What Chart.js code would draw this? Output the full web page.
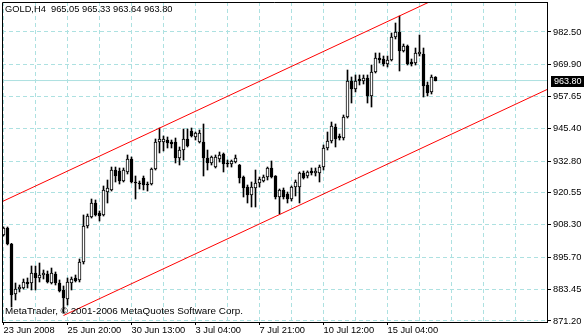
<!DOCTYPE html>
<html>
<head>
<meta charset="utf-8">
<script src="https://cdn.jsdelivr.net/npm/chart.js@4.4.1/dist/chart.umd.min.js"></script>
<style>
  html, body { margin: 0; padding: 0; background: #fff; }
  #wrap { width: 584px; height: 336px; }
</style>
</head>
<body>
<div id="wrap"><canvas id="chart" width="584" height="336"></canvas></div>
<script>
// GOLD H4 candles (bar index 0 = 23 Jun 2008)
const symbolTitle = "GOLD,H4  965.05 965.33 963.64 963.80";
const copyright = "MetaTrader, \u00A9 2001-2006 MetaQuotes Software Corp.";

const opens = [
  904.32, 907.01, 900.85, 881.59, 883.52, 883.91, 886.22, 885.83, 889.68, 887.76,
  888.91, 889.29, 885.83, 889.29, 885.83, 883.14, 879.67, 885.83, 887.76, 886.99,
  893.91, 907.78, 911.25, 916.64, 912.79, 912.02, 920.87, 921.65, 929.35, 928.96,
  925.11, 928.58, 933.59, 924.73, 924.34, 926.27, 923.96, 923.96, 929.73, 940.13,
  940.13, 940.90, 940.13, 940.13, 933.97, 937.05, 941.29, 944.37, 942.06, 940.13,
  940.13, 933.97, 932.05, 930.50, 933.59, 935.51, 932.05, 931.66, 932.43, 931.27,
  926.65, 922.80, 919.72, 922.42, 924.34, 925.11, 926.65, 930.12, 927.04, 918.95,
  921.65, 920.11, 918.18, 922.80, 922.80, 928.19, 927.04, 928.96, 928.19, 928.19,
  930.50, 937.82, 940.52, 945.91, 942.44, 941.67, 949.76, 963.63, 960.54, 964.40,
  963.63, 964.78, 957.85, 967.09, 972.48, 972.10, 970.17, 971.71, 980.57, 982.50,
  975.18, 977.10, 970.94, 970.56, 974.02, 974.02, 962.09, 959.39, 965.05
];
const highs = [
  907.40, 907.40, 901.10, 885.83, 885.06, 887.37, 887.76, 892.38, 892.38, 893.53,
  890.84, 890.45, 891.60, 890.07, 886.99, 884.68, 887.76, 888.14, 888.91, 895.07,
  912.02, 912.40, 918.18, 917.80, 913.56, 923.19, 925.50, 930.50, 930.50, 930.12,
  930.12, 935.13, 934.36, 927.04, 925.11, 927.04, 924.73, 930.12, 941.29, 945.52,
  942.44, 942.06, 940.90, 941.67, 938.21, 945.14, 945.14, 945.52, 943.98, 944.75,
  947.07, 937.05, 934.74, 935.13, 936.28, 935.90, 933.20, 933.20, 935.13, 931.50,
  927.04, 923.57, 924.73, 929.35, 926.65, 927.42, 930.50, 932.82, 927.20, 922.03,
  922.42, 920.87, 923.19, 925.50, 928.58, 928.96, 929.00, 930.12, 930.12, 931.27,
  938.98, 943.98, 947.83, 947.07, 943.21, 950.53, 967.86, 965.17, 965.94, 965.94,
  965.94, 965.94, 969.79, 974.41, 974.41, 973.25, 973.25, 982.11, 985.96, 988.66,
  977.87, 977.49, 972.10, 976.33, 981.34, 976.33, 963.24, 965.94, 965.33
];
const lows = [
  903.93, 900.50, 876.59, 879.29, 882.37, 883.52, 883.91, 883.14, 883.14, 886.22,
  887.37, 885.83, 885.45, 885.06, 882.37, 874.28, 877.36, 883.14, 886.22, 886.22,
  893.15, 907.01, 910.86, 911.63, 909.70, 911.63, 916.64, 921.26, 924.73, 923.96,
  924.73, 927.81, 924.34, 918.18, 922.03, 921.65, 921.26, 923.57, 929.35, 935.90,
  936.67, 937.82, 937.82, 932.05, 931.27, 933.20, 938.21, 942.06, 940.90, 939.75,
  927.04, 929.35, 931.27, 930.12, 932.43, 928.58, 930.50, 930.50, 932.05, 924.34,
  918.95, 916.64, 915.10, 915.10, 922.80, 924.73, 925.50, 926.27, 918.18, 912.40,
  918.18, 916.64, 917.41, 919.34, 916.64, 925.88, 926.27, 927.42, 927.04, 924.73,
  929.35, 937.05, 939.75, 938.21, 940.90, 940.90, 949.37, 955.15, 959.39, 962.09,
  962.47, 955.15, 953.61, 966.71, 970.56, 969.40, 969.02, 971.33, 979.80, 967.48,
  974.79, 969.79, 969.40, 969.79, 973.25, 957.46, 957.85, 958.62, 963.64
];
const closes = [
  907.01, 900.85, 881.21, 883.52, 884.29, 886.22, 885.45, 889.68, 887.76, 888.91,
  889.68, 886.22, 889.68, 885.83, 882.75, 880.06, 886.22, 887.37, 886.60, 893.91,
  907.78, 911.63, 916.64, 912.02, 911.63, 921.65, 922.42, 929.35, 927.04, 925.11,
  929.35, 933.59, 924.73, 924.34, 923.96, 923.57, 923.57, 929.73, 940.13, 941.29,
  941.29, 939.75, 939.36, 933.97, 937.05, 941.29, 938.59, 942.44, 943.60, 943.60,
  933.97, 932.05, 934.36, 934.36, 935.13, 931.66, 931.66, 932.82, 933.97, 926.27,
  922.42, 919.72, 922.80, 924.34, 925.88, 926.65, 930.12, 926.65, 918.95, 921.65,
  918.95, 918.18, 922.80, 924.73, 928.19, 926.27, 928.58, 928.19, 928.96, 930.50,
  937.82, 940.52, 946.29, 941.29, 941.67, 949.76, 963.63, 960.54, 963.63, 963.63,
  964.78, 957.85, 967.09, 972.48, 971.71, 970.17, 971.71, 980.57, 982.50, 975.18,
  977.10, 970.17, 970.17, 974.41, 974.79, 961.70, 959.00, 965.17, 963.80
];

const dateLabels = ["23 Jun 2008", "25 Jun 20:00", "30 Jun 13:00", "3 Jul 04:00",
                    "7 Jul 21:00", "10 Jul 12:00", "15 Jul 04:00"];
const priceTicks = [871.20, 883.45, 895.70, 908.30, 920.55, 932.80, 945.40, 957.65, 969.90, 982.50];

// equidistant channel (bar, price)
const upperChannel = [[-1, 916.69], [120, 1003.81]];
const lowerChannel = [[15, 873.31], [140, 963.31]];
const lastPrice = 963.80;

const gridColor = "#ade1e1";
const uiFont = "'Liberation Sans', Arial, sans-serif";

const bars = opens.map((o, i) => i);
const isUp = opens.map((o, i) => closes[i] >= o);

const chartDecor = {
  id: "chartDecor",
  afterDraw(chart) {
    const { ctx, chartArea: a } = chart;
    const y = chart.scales.y;
    ctx.save();
    // left and top frame lines
    ctx.strokeStyle = "#000";
    ctx.lineWidth = 1;
    ctx.beginPath();
    ctx.moveTo(a.left + 0.5, a.bottom);
    ctx.lineTo(a.left + 0.5, a.top + 0.5);
    ctx.lineTo(a.right, a.top + 0.5);
    ctx.stroke();
    // texts
    ctx.fillStyle = "#000";
    ctx.textBaseline = "alphabetic";
    ctx.textAlign = "left";
    ctx.font = "9.3px " + uiFont;
    ctx.fillText(symbolTitle, 5, 12);
    ctx.font = "9.9px " + uiFont;
    ctx.fillText(copyright, 5, 314);
    // last price box
    const py = Math.round(y.getPixelForValue(lastPrice));
    ctx.fillRect(a.right + 4, py - 5, 584 - a.right - 4, 11);
    ctx.fillStyle = "#fff";
    ctx.textBaseline = "middle";
    ctx.font = "9px " + uiFont;
    ctx.fillText(lastPrice.toFixed(2), a.right + 7, py + 0.5);
    ctx.restore();
  }
};

new Chart(document.getElementById("chart"), {
  type: "bar",
  data: {
    datasets: [
      {
        type: "line",
        data: [{ x: -1, y: lastPrice }, { x: 140, y: lastPrice }],
        borderColor: gridColor,
        borderWidth: 1,
        pointRadius: 0,
        order: 5
      },
      {
        type: "bar",
        data: bars.map(i => ({ x: i, y: [lows[i], highs[i]] })),
        backgroundColor: "#000",
        barThickness: 1,
        grouped: false,
        order: 3
      },
      {
        type: "bar",
        data: bars.map(i => ({ x: i, y: [opens[i], closes[i]] })),
        backgroundColor: isUp.map(u => (u ? "#fff" : "#000")),
        borderColor: "#000",
        borderWidth: 1,
        borderSkipped: false,
        barThickness: 3,
        minBarLength: 1,
        grouped: false,
        order: 2
      },
      {
        type: "line",
        data: upperChannel.map(p => ({ x: p[0], y: p[1] })),
        borderColor: "#ff0000",
        borderWidth: 1,
        pointRadius: 0,
        order: 1
      },
      {
        type: "line",
        data: lowerChannel.map(p => ({ x: p[0], y: p[1] })),
        borderColor: "#ff0000",
        borderWidth: 1,
        pointRadius: 0,
        order: 1
      }
    ]
  },
  options: {
    responsive: false,
    devicePixelRatio: 1,
    animation: false,
    events: [],
    layout: { padding: { left: 2, top: 2, right: 0, bottom: 0 } },
    plugins: {
      legend: { display: false },
      tooltip: { enabled: false }
    },
    scales: {
      x: {
        type: "linear",
        min: -0.375,
        max: 135.875,
        offset: false,
        afterBuildTicks: s => {
          const t = [];
          for (let b = 0; b <= 128; b += 8) t.push({ value: b });
          s.ticks = t;
        },
        afterFit: s => {
          s.height = 14;
          s.paddingLeft = 0;
          s.paddingRight = 0;
        },
        ticks: {
          autoSkip: false,
          maxRotation: 0,
          align: "start",
          padding: 0,
          color: "#000",
          font: { family: uiFont, size: 9.3 },
          callback: v => (v % 16 === 0 && dateLabels[v / 16]) ? dateLabels[v / 16] : ""
        },
        grid: {
          offset: false,
          color: gridColor,
          lineWidth: 1,
          tickLength: 3,
          tickColor: c => (c.tick && c.tick.value % 16 === 0 && c.tick.value <= 96) ? "#000" : "rgba(0,0,0,0)"
        },
        border: { display: true, color: "#000", dash: [4, 3] }
      },
      y: {
        type: "linear",
        position: "right",
        min: 870.81,
        max: 994.05,
        beginAtZero: false,
        afterBuildTicks: s => {
          s.ticks = priceTicks.map(v => ({ value: v }));
        },
        afterFit: s => {
          s.width = 37;
          s.paddingTop = 0;
          s.paddingBottom = 0;
        },
        ticks: {
          autoSkip: false,
          padding: 2,
          color: "#000",
          font: { family: uiFont, size: 9.3 },
          callback: v => v.toFixed(2)
        },
        grid: {
          color: gridColor,
          lineWidth: 1,
          tickLength: 4,
          tickColor: "#000"
        },
        border: { display: true, color: "#000", dash: [4, 3] }
      }
    }
  },
  plugins: [chartDecor]
});
</script>
</body>
</html>
